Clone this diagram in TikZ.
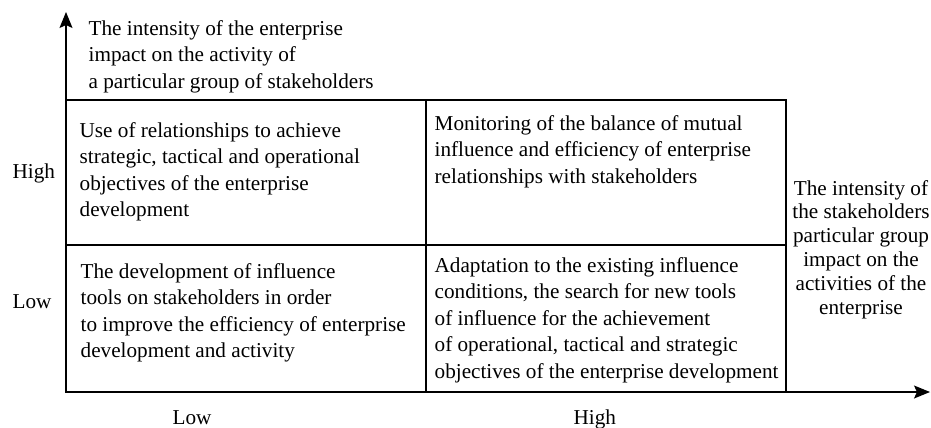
\documentclass[tikz,border=0pt]{standalone}
\usepackage{fontspec}
\setmainfont{Liberation Serif}
\usetikzlibrary{arrows.meta}

\begin{document}
\begin{tikzpicture}[x=0.5pt,y=-0.5pt,line width=0.65pt,
    txt/.style={inner sep=0pt,font=\fontsize{10.6}{13.25}\selectfont},
    cell/.style={txt,anchor=base west,align=left},
    axis/.style={-{Stealth[length=8pt,width=6.5pt,inset=1.5pt]}}]
  \useasboundingbox (0,0) rectangle (931,428);
  % axes
  \coordinate (O) at (66,392);
  \coordinate (ytip) at (66,12);
  \coordinate (xtip) at (930,392);
  \draw[axis] (O) -- (ytip);
  \draw[axis] (O) -- (xtip);
  % matrix
  \draw (66,100) rectangle (786,392);
  \draw (66,245) -- (786,245);
  \draw (426,100) -- (426,392);
  % axis titles (base = last line)
  \node[cell] (ytitle) at (88,88) {The intensity of the enterprise\\impact on the activity of\\a particular group of stakeholders};
  \node[txt,anchor=base,align=center,font=\fontsize{10.6}{11.9}\selectfont] (xtitle) at (861,314)
    {The intensity of\\the stakeholders\\particular group\\impact on the\\activities of the\\enterprise};
  % levels
  \node[txt,anchor=base west] (yhigh) at (12,178) {High};
  \node[txt,anchor=base west] (ylow) at (12,308) {Low};
  \node[txt,anchor=base west] (xlow) at (172,424) {Low};
  \node[txt,anchor=base west] (xhigh) at (573,424) {High};
  % cells
  \node[cell] (use) at (79,216.5) {Use of relationships to achieve\\strategic, tactical and operational\\objectives of the enterprise\\development};
  \node[cell] (monitor) at (434,183) {Monitoring of the balance of mutual\\influence and efficiency of enterprise\\relationships with stakeholders};
  \node[cell] (develop) at (80,357.5) {The development of influence\\tools on stakeholders in order\\to improve the efficiency of enterprise\\development and activity};
  \node[cell] (adapt) at (434,378) {Adaptation to the existing influence\\conditions, the search for new tools\\of influence for the achievement\\of operational, tactical and strategic\\objectives of the enterprise development};
\end{tikzpicture}
\end{document}
